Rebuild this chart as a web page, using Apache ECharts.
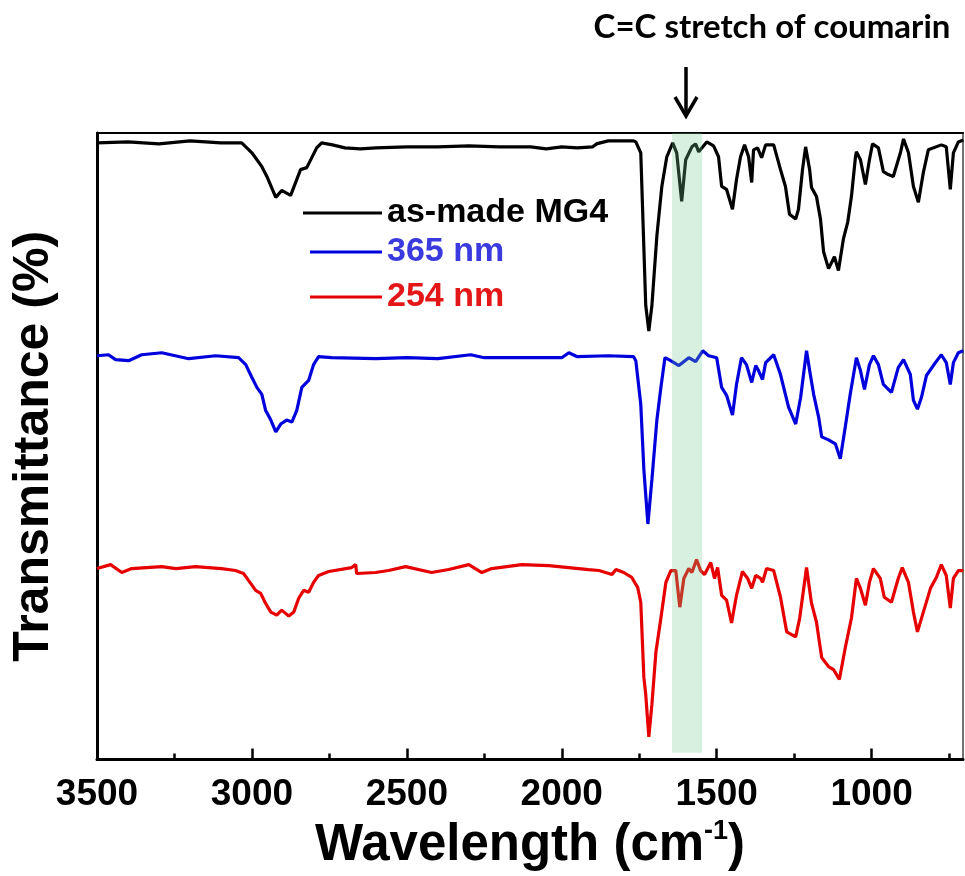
<!DOCTYPE html>
<html>
<head>
<meta charset="utf-8">
<script src="https://cdn.jsdelivr.net/npm/echarts@6/dist/echarts.min.js"></script>
<style>html,body{margin:0;padding:0;background:#fff}#c{width:965px;height:876px}</style>
</head>
<body>
<div id="c"></div>
<script>
// Wavenumber (cm-1) and offset transmittance (a.u.)
const asMadeWn = [3500,3400,3300,3200,3100,3033,3000,2968,2950,2923,2904,2875,2843,2823,2791,2775,2740,2700,2650,2600,2500,2400,2300,2200,2100,2050,2000,1950,1900,1888,1850,1800,1768,1761,1745,1729,1719,1709,1693,1677,1661,1642,1629,1613,1600,1580,1568,1558,1532,1510,1494,1484,1468,1449,1436,1423,1410,1397,1387,1381,1368,1355,1342,1316,1294,1278,1265,1245,1236,1223,1213,1200,1194,1178,1165,1155,1139,1120,1107,1091,1077,1065,1052,1049,1036,1020,1007,997,978,962,946,930,907,897,881,865,849,833,817,775,759,746,736,720,704];
const asMadeT = [62.3,62.4,62.2,62.5,62.3,62.3,61.3,59.9,58.8,56.8,57.5,57.0,59.6,59.8,61.8,62.3,62.1,61.8,61.7,61.8,61.9,61.9,62.0,61.9,61.9,61.7,61.9,61.8,61.9,62.2,62.5,62.5,62.5,62.4,61.3,45.9,43.3,45.9,52.9,57.9,60.9,62.3,61.3,56.4,60.6,61.9,62.2,61.4,62.4,62.0,60.9,57.9,57.6,55.6,58.6,60.9,62.1,60.9,58.3,61.6,61.8,60.8,62.1,62.1,59.6,57.9,55.1,54.6,55.6,59.6,61.9,59.6,57.8,56.9,54.6,51.3,49.6,50.8,49.4,52.6,54.3,56.9,60.9,61.4,60.6,58.1,60.6,62.2,61.8,59.4,59.1,58.9,61.3,62.7,61.3,57.9,56.3,59.3,61.6,62.1,61.9,57.6,61.3,62.4,62.6];

const nm365Wn = [3500,3463,3440,3398,3356,3291,3204,3117,3043,3020,3000,2984,2968,2956,2939,2923,2907,2888,2871,2855,2839,2817,2801,2785,2743,2600,2500,2400,2294,2250,2100,2000,1977,1950,1850,1768,1761,1745,1735,1722,1709,1693,1680,1667,1654,1622,1590,1568,1545,1526,1500,1484,1468,1449,1436,1420,1404,1387,1374,1365,1352,1342,1316,1294,1268,1245,1229,1210,1200,1187,1171,1161,1139,1117,1101,1085,1069,1049,1036,1023,1007,994,978,962,936,914,897,875,865,852,839,823,794,775,759,746,736,720,704];
const nm365T = [40.8,40.9,40.4,40.3,40.9,41.1,40.5,40.8,40.6,39.9,38.6,37.6,36.9,35.3,34.3,33.1,33.9,34.3,34.1,35.3,37.6,38.3,39.9,40.7,40.6,40.5,40.6,40.5,40.9,40.6,40.6,40.6,41.1,40.7,40.8,40.7,40.3,35.9,29.3,23.8,28.3,34.3,37.6,40.6,40.4,39.8,40.6,40.2,41.3,40.8,40.6,37.6,36.8,34.8,37.9,40.6,39.9,38.1,39.8,39.3,38.4,40.1,40.9,38.9,35.6,33.9,36.6,41.3,39.3,36.9,34.6,32.6,32.3,31.9,30.4,33.6,36.9,40.6,39.3,37.4,39.9,40.8,39.9,37.9,37.1,39.6,40.4,38.9,36.3,35.4,36.6,38.8,40.1,40.9,40.1,37.9,40.1,41.1,41.3];

const nm254Wn = [3500,3456,3420,3388,3291,3246,3182,3098,3053,3027,3011,2988,2972,2956,2939,2920,2904,2881,2865,2849,2833,2817,2801,2785,2752,2678,2665,2662,2601,2559,2504,2420,2365,2300,2258,2226,2129,2042,1913,1880,1838,1825,1800,1774,1755,1745,1735,1729,1719,1709,1696,1680,1664,1648,1632,1619,1606,1590,1580,1565,1552,1539,1519,1507,1497,1484,1468,1452,1436,1417,1400,1387,1374,1358,1352,1339,1316,1294,1274,1245,1232,1210,1194,1178,1161,1139,1123,1104,1085,1065,1049,1036,1020,1007,994,972,959,936,914,901,881,865,852,833,810,791,775,759,746,736,720,704];
const nm254T = [19.3,19.7,18.9,19.3,19.5,19.3,19.5,19.3,19.1,18.8,18.1,17.1,16.8,15.8,14.9,14.6,15.1,14.5,14.9,16.3,17.1,16.9,17.9,18.6,19.0,19.4,19.7,18.8,18.9,19.1,19.5,18.9,19.2,19.7,18.9,19.3,19.7,19.6,19.2,19.1,18.7,19.2,18.9,18.4,17.4,15.9,8.3,6.6,2.3,5.6,10.9,14.3,17.9,19.1,19.1,15.4,18.3,19.3,18.9,20.2,19.1,18.7,19.9,18.3,19.4,16.6,16.1,13.8,16.6,19.0,18.3,17.3,18.6,18.3,17.9,19.3,19.1,16.4,12.9,12.4,14.3,19.4,15.8,13.9,10.3,9.4,9.1,8.1,11.3,14.3,18.3,17.3,15.6,17.9,19.3,18.3,16.4,15.9,18.3,19.4,17.9,14.9,12.9,14.9,17.3,18.4,19.7,18.6,15.3,18.3,19.1,19.1];

const seriesNames = ['as-made MG4', '365 nm', '254 nm'];
const majorTicks = [3500, 3000, 2500, 2000, 1500, 1000];
const minorTicks = [3250, 2750, 2250, 1750, 1250, 750];
const bandRange = [1644, 1547];
const arrowWn = 1599;
const annotation = 'C=C stretch of coumarin';

const zip = (a, b) => a.map((x, i) => [x, b[i]]);

const chart = echarts.init(document.getElementById('c'), null, {renderer: 'canvas'});
const xMin = 705, xMax = 3500, yMax = 63.3;
const lineColors = ['#000000', '#0000dc', '#e60000'];
const textColors = ['#000000', '#3a3ade', '#e31717'];
const FONT = '"Liberation Sans", Arial, sans-serif';

const legends = seriesNames.map((n, i) => ({
  data: [n], left: [303, 310, 310][i], top: [196, 235, 280][i],
  orient: 'vertical', padding: 0, selectedMode: false,
  icon: 'rect', itemWidth: [79, 72, 72][i], itemHeight: 3, itemGap: 0,
  textStyle: {color: textColors[i], fontSize: 34, fontWeight: 'bold', fontFamily: FONT, padding: [0, 0, 0, 0]}
}));

chart.setOption({
  animation: false,
  backgroundColor: '#fff',
  grid: {left: 97, right: 2, top: 133, bottom: 110, containLabel: false},
  legend: legends,
  xAxis: [{
    type: 'value', min: xMin, max: xMax, inverse: true, position: 'bottom',
    axisLine: {show: true, lineStyle: {color: '#000', width: 3}},
    axisTick: {show: true, inside: true, length: 11, lineStyle: {color: '#000', width: 2.5}, customValues: majorTicks},
    axisLabel: {show: true, customValues: majorTicks, margin: 17, color: '#000', fontSize: 37, fontWeight: 'bold', fontFamily: FONT,
      formatter: function (v) { return String(v); }},
    splitLine: {show: false},
    name: '{a|Wavelength (cm}{s|-1}{a|)}', nameLocation: 'middle', nameGap: 55,
    nameTextStyle: {rich: {
      a: {fontSize: 51, fontWeight: 'bold', fontFamily: FONT, color: '#000', lineHeight: 54},
      s: {fontSize: 27, fontWeight: 'bold', fontFamily: FONT, color: '#000', verticalAlign: 'top', lineHeight: 27}
    }}
  }, {
    type: 'value', min: xMin, max: xMax, inverse: true, position: 'bottom',
    axisLine: {show: false},
    axisTick: {show: true, inside: true, length: 6, lineStyle: {color: '#000', width: 2.5}, customValues: minorTicks},
    axisLabel: {show: false}, splitLine: {show: false}
  }, {
    type: 'value', min: xMin, max: xMax, inverse: true, position: 'top',
    axisLine: {show: true, lineStyle: {color: '#000', width: 2}},
    axisTick: {show: false}, axisLabel: {show: false}, splitLine: {show: false}
  }],
  yAxis: [{
    type: 'value', min: 0, max: yMax, position: 'left',
    axisLine: {show: true, lineStyle: {color: '#000', width: 3}},
    axisTick: {show: false}, axisLabel: {show: false}, splitLine: {show: false},
    name: 'Transmittance (%)', nameLocation: 'middle', nameGap: 38,
    nameTextStyle: {fontSize: 50, fontWeight: 'bold', fontFamily: FONT, color: '#000'}
  }, {
    type: 'value', min: 0, max: yMax, position: 'right',
    axisLine: {show: true, lineStyle: {color: '#444', width: 1.5}},
    axisTick: {show: false}, axisLabel: {show: false}, splitLine: {show: false}
  }],
  series: [
    {name: seriesNames[0], type: 'line', data: zip(asMadeWn, asMadeT), showSymbol: false, symbol: 'none', color: lineColors[0], lineStyle: {width: 3.2, color: lineColors[0]}, z: 3},
    {name: seriesNames[1], type: 'line', data: zip(nm365Wn, nm365T), showSymbol: false, symbol: 'none', color: lineColors[1], lineStyle: {width: 3.2, color: lineColors[1]}, z: 3},
    {name: seriesNames[2], type: 'line', data: zip(nm254Wn, nm254T), showSymbol: false, symbol: 'none', color: lineColors[2], lineStyle: {width: 3.2, color: lineColors[2]}, z: 3},
    {type: 'custom', z: 5, silent: true, data: [[bandRange[0], bandRange[1]]],
      renderItem: function (params, api) {
        const p1 = api.coord([api.value(0), yMax]);
        const p2 = api.coord([api.value(1), 0.7]);
        return {type: 'rect', shape: {x: Math.min(p1[0], p2[0]), y: p1[1], width: Math.abs(p2[0] - p1[0]), height: p2[1] - p1[1]},
          style: {fill: 'rgba(110,200,145,0.28)'}};
      }}
  ]
});

const ax = chart.convertToPixel({xAxisIndex: 0}, arrowWn);
chart.setOption({
  graphic: [
    {type: 'text', x: 772, y: 27, style: {text: annotation, fill: '#000', font: 'bold 33px Lato, "Open Sans", sans-serif', textAlign: 'center', textVerticalAlign: 'middle'}},
    {type: 'line', shape: {x1: ax, y1: 67, x2: ax, y2: 115}, style: {stroke: '#000', lineWidth: 3.5}},
    {type: 'polyline', shape: {points: [[ax - 11, 97], [ax, 116], [ax + 11, 97]]}, style: {stroke: '#000', lineWidth: 3.5, fill: null}}
  ]
});
</script>
</body>
</html>
